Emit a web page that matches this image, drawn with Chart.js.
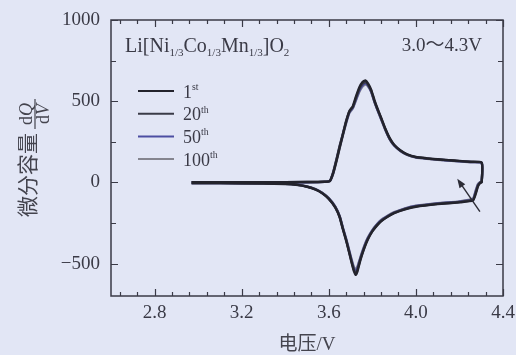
<!DOCTYPE html>
<html>
<head>
<meta charset="utf-8">
<script src="https://cdn.jsdelivr.net/npm/chart.js@4.4.0/dist/chart.umd.min.js"></script>
<style>
  html, body { margin: 0; padding: 0; background: #e2e6f5; }
  #wrap { width: 516px; height: 355px; position: relative; }
</style>
</head>
<body>
<div id="wrap"><canvas id="dqdv"></canvas></div>
<script>
// dQ/dV of Li[Ni1/3Co1/3Mn1/3]O2 cycled 3.0-4.3 V
const cycleNames = ['1', '20', '50', '100'];
const cycleSuffix = ['st', 'th', 'th', 'th'];

// charge branch (voltage going up)
const chargeV = [2.97, 3.10, 3.30, 3.50, 3.58, 3.605, 3.62, 3.635, 3.65, 3.665, 3.68, 3.695, 3.71, 3.725,
  3.74, 3.755, 3.768, 3.78, 3.795, 3.81, 3.825, 3.84, 3.86, 3.88, 3.90, 3.93, 3.96, 4.00, 4.05, 4.10,
  4.15, 4.20, 4.25, 4.302];
const charge1st = [1, 1, 1, 2, 4, 8, 55, 130, 215, 295, 375, 440, 468, 530, 585, 618, 628, 610, 570, 505,
  450, 400, 330, 272, 232, 196, 173, 156, 148, 142, 137, 132, 127, 122];
const charge20th = [0, 0, 1, 2, 4, 10, 62, 140, 225, 300, 380, 438, 462, 520, 575, 608, 618, 602, 562, 498,
  445, 395, 326, 268, 230, 194, 171, 155, 147, 141, 136, 131, 126, 121];
const charge50th = [0, 0, 0, 1, 3, 9, 58, 138, 220, 298, 372, 432, 458, 512, 565, 598, 610, 596, 558, 496,
  442, 392, 324, 266, 228, 193, 170, 154, 146, 140, 135, 130, 125, 120];
const charge100th = [0, 0, 0, 1, 3, 8, 50, 128, 210, 290, 365, 428, 455, 505, 556, 590, 603, 592, 556, 494,
  440, 390, 322, 265, 227, 192, 169, 153, 145, 139, 134, 129, 124, 119];

// discharge branch (voltage going down)
const dischargeV = [4.302, 4.295, 4.285, 4.275, 4.262, 4.20, 4.10, 4.00, 3.95, 3.90, 3.87, 3.84, 3.82, 3.80,
  3.78, 3.765, 3.75, 3.74, 3.73, 3.724, 3.715, 3.705, 3.695, 3.68, 3.665, 3.65, 3.63, 3.60, 3.57, 3.54,
  3.50, 3.45, 3.40, 3.30, 3.10, 2.97];
const discharge1st = [0, -4, -25, -70, -112, -123, -134, -150, -166, -190, -212, -240, -268, -302, -350,
  -398, -458, -505, -555, -570, -545, -495, -440, -360, -290, -215, -155, -102, -68, -45, -27, -15, -10,
  -7, -5, -5];
const discharge20th = [2, -2, -20, -62, -108, -121, -132, -148, -164, -188, -210, -238, -265, -300, -346,
  -394, -452, -498, -546, -560, -538, -490, -436, -356, -286, -212, -153, -100, -66, -44, -26, -14, -9,
  -6, -5, -5];
const discharge50th = [3, 0, -15, -55, -104, -119, -130, -146, -162, -186, -208, -235, -262, -296, -342,
  -388, -446, -490, -534, -545, -528, -482, -430, -352, -283, -210, -151, -99, -65, -43, -26, -14, -9,
  -6, -5, -5];
const discharge100th = [4, 2, -10, -48, -100, -117, -128, -144, -160, -184, -206, -232, -260, -294, -338,
  -384, -440, -484, -525, -535, -520, -476, -425, -348, -280, -207, -149, -97, -64, -42, -25, -13, -8,
  -6, -5, -5];

const xTickLabels = [2.8, 3.2, 3.6, 4.0, 4.4];
const yTickLabels = [-500, 0, 500, 1000];

// arrow near 4.3 V (from, to) in data units
const arrowFrom = [4.294, -180];
const arrowTo = [4.19, 22];

const SERIF = "'Liberation Serif', 'Times New Roman', 'Noto Sans CJK SC', serif";
const INK = '#3a3a46';
const lineColors = ['#23232c', '#3a3b47', '#4c4ea2', '#85858f'];

const chargeSets = [charge1st, charge20th, charge50th, charge100th];
const dischargeSets = [discharge1st, discharge20th, discharge50th, discharge100th];

function loopPoints(ch, dis) {
  return chargeV.map((v, i) => ({ x: v, y: ch[i] }))
    .concat(dischargeV.map((v, i) => ({ x: v, y: dis[i] })));
}

const datasets = cycleNames.map((n, i) => ({
  label: n + cycleSuffix[i],
  data: loopPoints(chargeSets[i], dischargeSets[i]),
  showLine: true,
  borderColor: lineColors[i],
  borderWidth: 2.4,
  pointRadius: 0,
  tension: 0.15
}));

// minor ticks every 0.08 V, every 250 on y
const xTicks = [];
for (let k = 0; k <= 22; k++) xTicks.push(Math.round((2.64 + k * 0.08) * 100) / 100);
const yTicks = [];
for (let v = -500; v <= 1000; v += 250) yTicks.push(v);

const isLabelled = (list, v) => list.some(t => Math.abs(t - v) < 1e-6);

// draws text made of pieces, some of them sub/superscript
function drawRich(ctx, parts, x, y, size) {
  parts.forEach(p => {
    const s = p.s ? size * 0.55 : size;
    const dy = p.s === 'sub' ? size * 0.22 : p.s === 'sup' ? -size * 0.42 : 0;
    ctx.font = (p.i ? 'italic ' : '') + s + 'px ' + SERIF;
    ctx.fillText(p.t, x, y + dy);
    x += ctx.measureText(p.t).width;
  });
  return x;
}
function richWidth(ctx, parts, size) {
  let w = 0;
  parts.forEach(p => {
    const s = p.s ? size * 0.55 : size;
    ctx.font = (p.i ? 'italic ' : '') + s + 'px ' + SERIF;
    w += ctx.measureText(p.t).width;
  });
  return w;
}

const decorations = {
  id: 'decorations',
  afterDraw(chart) {
    const { ctx, chartArea: a, scales: { x, y } } = chart;
    ctx.save();

    // frame and inward ticks on all four sides
    ctx.strokeStyle = INK;
    ctx.lineWidth = 1.5;
    ctx.strokeRect(a.left, a.top, a.right - a.left, a.bottom - a.top);
    ctx.lineWidth = 1.2;
    ctx.beginPath();
    x.ticks.forEach(t => {
      const px = Math.round(x.getPixelForValue(t.value)) + 0.5;
      const len = t.label ? 7 : 4;
      ctx.moveTo(px, a.bottom); ctx.lineTo(px, a.bottom - len);
      ctx.moveTo(px, a.top); ctx.lineTo(px, a.top + len);
    });
    y.ticks.forEach(t => {
      const py = Math.round(y.getPixelForValue(t.value)) + 0.5;
      const len = t.label ? 7 : 5;
      ctx.moveTo(a.left, py); ctx.lineTo(a.left + len, py);
      ctx.moveTo(a.right, py); ctx.lineTo(a.right - len, py);
    });
    ctx.stroke();

    // arrow
    const x0 = x.getPixelForValue(arrowFrom[0]), y0 = y.getPixelForValue(arrowFrom[1]);
    const x1 = x.getPixelForValue(arrowTo[0]), y1 = y.getPixelForValue(arrowTo[1]);
    const ang = Math.atan2(y1 - y0, x1 - x0);
    ctx.strokeStyle = '#2c2c36';
    ctx.fillStyle = '#2c2c36';
    ctx.lineWidth = 1.4;
    ctx.beginPath();
    ctx.moveTo(x0, y0);
    ctx.lineTo(x1 - 5 * Math.cos(ang), y1 - 5 * Math.sin(ang));
    ctx.stroke();
    ctx.beginPath();
    ctx.moveTo(x1, y1);
    ctx.lineTo(x1 - 9 * Math.cos(ang) + 3.5 * Math.sin(ang), y1 - 9 * Math.sin(ang) - 3.5 * Math.cos(ang));
    ctx.lineTo(x1 - 9 * Math.cos(ang) - 3.5 * Math.sin(ang), y1 - 9 * Math.sin(ang) + 3.5 * Math.cos(ang));
    ctx.closePath();
    ctx.fill();

    // compound and voltage window
    ctx.fillStyle = INK;
    ctx.textBaseline = 'alphabetic';
    ctx.textAlign = 'left';
    drawRich(ctx, [
      { t: 'Li[Ni' }, { t: '1/3', s: 'sub' }, { t: 'Co' }, { t: '1/3', s: 'sub' },
      { t: 'Mn' }, { t: '1/3', s: 'sub' }, { t: ']O' }, { t: '2', s: 'sub' }
    ], a.left + 14, 52, 20);
    ctx.textAlign = 'right';
    ctx.font = '19px ' + SERIF;
    ctx.fillText('3.0～4.3V', a.right - 21, 51);

    // legend
    ctx.textAlign = 'left';
    chart.data.datasets.forEach((ds, i) => {
      const ly = 91 + i * 22.7;
      ctx.strokeStyle = ds.borderColor;
      ctx.lineWidth = 2;
      ctx.beginPath();
      ctx.moveTo(138, ly); ctx.lineTo(174, ly);
      ctx.stroke();
      ctx.fillStyle = INK;
      drawRich(ctx, [{ t: cycleNames[i] }, { t: cycleSuffix[i], s: 'sup' }], 183, ly + 6.5, 18);
    });

    // y title: 微分容量 dQ/dV, rotated
    ctx.translate(31, 158);
    ctx.rotate(-Math.PI / 2);
    ctx.fillStyle = '#44444e';
    ctx.textAlign = 'left';
    ctx.textBaseline = 'middle';
    ctx.font = '21px ' + SERIF;
    ctx.fillText('微分容量', -59, -2);
    ctx.textBaseline = 'alphabetic';
    const num = [{ t: 'd' }, { t: 'Q', i: true }];
    const den = [{ t: 'd' }, { t: 'V', i: true }];
    const cx = 44;
    drawRich(ctx, num, cx - richWidth(ctx, num, 18) / 2, 0.5, 18);
    drawRich(ctx, den, cx - richWidth(ctx, den, 18) / 2, 17.5, 18);
    ctx.strokeStyle = '#44444e';
    ctx.lineWidth = 1.2;
    ctx.beginPath();
    ctx.moveTo(29, 4); ctx.lineTo(59, 4);
    ctx.stroke();

    ctx.restore();
  }
};

new Chart(document.getElementById('dqdv'), {
  type: 'scatter',
  data: { datasets: datasets },
  options: {
    responsive: true,
    maintainAspectRatio: false,
    animation: false,
    devicePixelRatio: 1,
    layout: { padding: { top: 20, right: 13, left: 0, bottom: 0 } },
    plugins: { legend: { display: false }, tooltip: { enabled: false } },
    scales: {
      x: {
        type: 'linear',
        min: 2.6,
        max: 4.4,
        afterBuildTicks: s => { s.ticks = xTicks.map(v => ({ value: v })); },
        afterFit: s => { s.height = 59; s.paddingLeft = 0; s.paddingRight = 0; },
        grid: { display: false, drawTicks: false },
        border: { display: false },
        ticks: {
          autoSkip: false,
          maxRotation: 0,
          padding: 6,
          color: INK,
          font: { family: SERIF, size: 19 },
          callback: v => isLabelled(xTickLabels, v) ? v.toFixed(1) : ''
        },
        title: {
          display: true,
          text: '电压/V',
          color: '#44444e',
          font: { family: SERIF, size: 19, lineHeight: 1.1 },
          padding: { top: 0, bottom: 0 }
        }
      },
      y: {
        min: -700,
        max: 1000,
        afterBuildTicks: s => { s.ticks = yTicks.map(v => ({ value: v })); },
        afterFit: s => { s.width = 111; s.paddingTop = 0; s.paddingBottom = 0; },
        grid: { display: false, drawTicks: false },
        border: { display: false },
        ticks: {
          autoSkip: false,
          padding: 11,
          color: INK,
          font: { family: SERIF, size: 19 },
          callback: v => isLabelled(yTickLabels, v) ? (v < 0 ? '\u2212' + Math.abs(v) : String(v)) : ''
        }
      }
    }
  },
  plugins: [decorations]
});
</script>
</body>
</html>
